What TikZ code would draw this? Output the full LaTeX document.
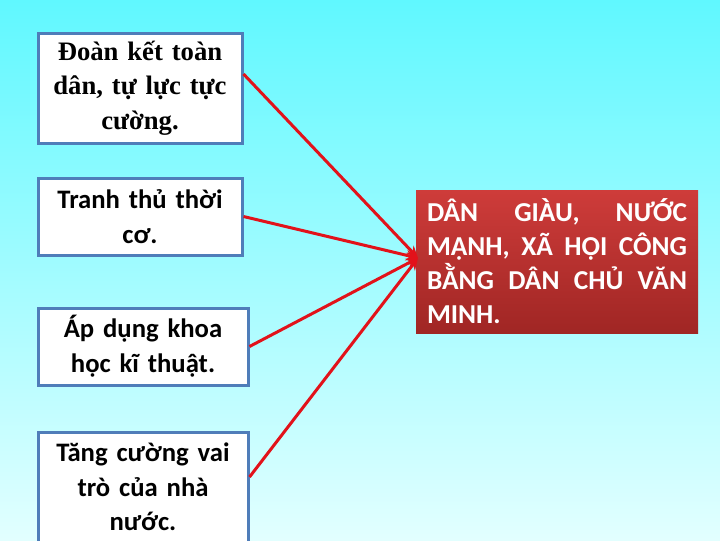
\documentclass[tikz,border=0pt]{standalone}
\usepackage{fontspec}
\setmainfont{Carlito}
\newfontfamily\timesfont{Liberation Serif}
\usetikzlibrary{arrows.meta}

\definecolor{boxblue}{RGB}{79,125,185}
\definecolor{linered}{RGB}{226,18,26}
\definecolor{bgtop}{RGB}{96,248,255}
\definecolor{bgbot}{RGB}{226,255,255}
\definecolor{redtop}{RGB}{206,60,58}
\definecolor{redbot}{RGB}{160,38,36}

\tikzset{every picture/.style={line width=0.75pt}}
\tikzset{
  leftbox/.style={draw=boxblue, line width=2.25pt, fill=white, align=center, inner sep=0pt, font=\bfseries\fontsize{20}{26}\selectfont},
  link/.style={draw=linered, line width=2.25pt, -{Stealth[length=9pt,width=8pt]}}
}

\begin{document}
\begin{tikzpicture}[x=0.75pt,y=0.75pt,yscale=-1,xscale=1]
\clip (0,0) rectangle (720,540);
% Background
\fill[top color=bgtop, bottom color=bgbot] (0,0) rectangle (720,540);

% Text Node
\node[leftbox, minimum width=153pt, minimum height=82.5pt, text width=150pt, font=\timesfont\bfseries\fontsize{20}{26}\selectfont] (doanket) at (140,88) {Đoàn kết toàn\\dân, tự lực tực\\cường.};
% Text Node
\node[leftbox, minimum width=153pt, minimum height=57.75pt, text width=150pt] (thoico) at (140,216.5) {Tranh thủ thời\\cơ.};
% Text Node
\node[leftbox, minimum width=157.5pt, minimum height=57.75pt, text width=154pt] (khoahoc) at (143,346.5) {Áp dụng khoa\\học kĩ thuật.};
% Text Node
\node[leftbox, minimum width=157.5pt, minimum height=82.5pt, text width=154pt] (nhanuoc) at (143,487) {Tăng cường vai\\trò của nhà\\nước.};
% Text Node
\node[fill=redbot, top color=redtop, bottom color=redbot, minimum width=211.5pt, minimum height=107.25pt, text width=195pt, inner sep=0pt, align=justify, text=white, font=\bfseries\fontsize{20.5}{25.5}\selectfont] (mucdich) at (557,261.5) {DÂN GIÀU, NƯỚC MẠNH, XÃ HỘI CÔNG BẰNG DÂN CHỦ VĂN MINH.};

\coordinate (tip) at (418,258);
% Connection
\draw[link] ([yshift=-10.5pt]doanket.east) -- (tip);
% Connection
\draw[link] (thoico.east) -- (tip);
% Connection
\draw[link] (khoahoc.east) -- (tip);
% Connection
\draw[link] ([yshift=-7.5pt]nhanuoc.east) -- (tip);

\end{tikzpicture}
\end{document}
